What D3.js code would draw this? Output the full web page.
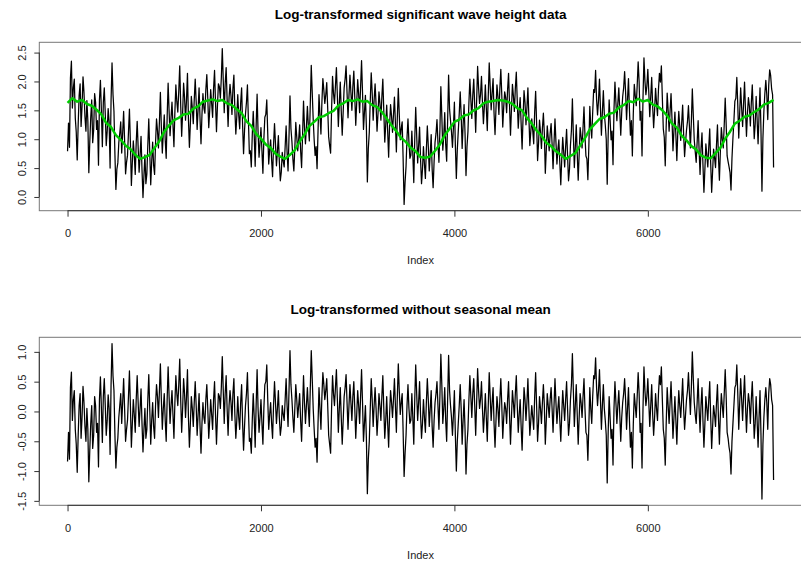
<!DOCTYPE html>
<html lang="en">
<head>
<meta charset="utf-8">
<title>Log-transformed significant wave height data</title>
<script src="https://d3js.org/d3.v7.min.js"></script>
<style>
  body { margin: 0; background: #fff; }
  svg { display: block; font-family: "Liberation Sans", Arial, Helvetica, sans-serif; }
</style>
</head>
<body>
<div id="chart"></div>
<script>
// log wave height, one value every 20 index steps (0 .. 7300)
var STEP = 20;
var logHeight = [
  0.79,0.86,2.35,1.89,1.37,0.64,1.76,1.22,2.08,1.39,1.67,0.42,1.38,0.94,1.79,1.17,0.55,2.02,0.87,1.89,0.89,1.53,0.50,2.32,1.48,
  0.13,0.59,1.10,0.76,1.48,0.40,0.72,1.52,0.20,0.97,0.39,1.31,0.43,1.05,-0.01,0.73,0.40,1.35,0.21,0.95,0.39,1.35,0.85,1.81,0.76,
  1.42,0.67,1.97,1.06,1.64,0.87,1.94,1.47,2.27,1.05,1.97,1.33,2.14,0.86,1.74,1.27,2.04,1.17,1.89,0.92,1.79,1.45,2.12,1.20,1.86,
  1.38,2.19,1.13,1.96,1.71,2.57,1.46,2.24,1.22,1.95,1.43,2.11,1.09,1.77,1.18,1.89,0.75,1.44,1.94,0.75,0.52,1.48,0.53,1.78,0.69,
  1.20,0.41,1.38,1.68,0.57,0.99,0.35,1.27,0.54,1.06,0.28,0.77,0.52,1.23,0.45,1.75,0.96,0.45,1.29,0.80,1.25,0.51,1.66,0.92,1.57,
  0.97,2.28,1.34,0.72,0.49,1.77,1.09,2.05,1.62,1.98,1.04,0.76,2.09,1.62,2.24,1.22,1.99,1.07,1.89,2.27,1.37,2.11,1.50,2.18,1.24,
  2.03,1.46,2.36,1.17,1.76,0.26,1.12,2.15,1.33,1.96,1.14,1.82,1.33,2.04,0.95,1.59,0.69,1.60,1.12,1.73,0.78,1.88,0.99,1.30,-0.13,
  0.53,1.35,0.67,1.14,0.25,1.55,0.59,1.21,0.23,0.87,0.32,1.23,0.45,1.08,0.16,0.95,1.34,0.60,1.91,0.81,1.46,0.62,2.11,1.32,0.86,
  1.64,0.32,1.14,1.82,0.84,1.60,0.37,1.13,2.04,1.36,2.04,1.12,2.26,1.62,2.09,1.27,1.94,1.15,2.32,1.51,2.05,1.08,1.94,1.43,2.21,
  1.21,1.82,1.46,2.14,1.07,1.95,1.48,2.16,1.19,1.72,0.83,1.84,1.25,1.89,0.89,1.35,0.92,1.83,0.63,1.33,0.84,1.45,0.41,1.23,0.80,
  1.27,0.49,1.35,0.57,0.99,0.21,1.03,0.52,1.17,0.28,0.90,1.70,0.51,1.25,0.29,1.20,0.85,1.56,0.71,0.30,1.57,1.02,1.86,2.19,1.42,
  2.04,1.07,1.84,1.25,0.22,1.68,0.99,0.56,1.99,1.32,1.89,1.07,1.74,2.17,1.34,2.05,1.07,0.71,1.95,1.58,2.34,1.33,0.71,2.41,1.77,
  2.21,1.39,2.07,1.20,1.88,1.41,2.14,2.27,1.18,0.54,1.80,1.14,1.79,0.80,1.47,0.63,1.48,0.98,1.59,0.70,1.16,1.58,0.85,1.87,0.99,
  0.60,1.32,0.39,1.11,0.08,0.92,0.52,1.18,0.08,0.83,0.51,1.25,0.29,1.20,0.85,1.71,0.71,0.52,0.12,1.02,1.66,2.07,1.02,1.89,1.22,
  1.99,1.05,1.72,1.23,1.94,1.01,1.74,0.92,1.89,0.10,1.49,2.02,1.34,2.20,1.87,0.51
];
// readings in between, at index 10, 30, ..., 7290
var logHeightMid = [
  1.28,2.06,1.54,2.04,1.12,1.26,1.96,1.57,1.81,1.14,1.32,0.95,1.68,1.16,1.64,1.32,1.68,1.49,1.64,1.44,1.14,1.30,1.67,1.78,0.73,
  0.48,0.94,1.30,1.11,0.98,0.60,1.12,0.94,0.60,0.72,0.94,0.86,0.73,0.47,0.37,0.23,0.90,0.78,0.61,0.55,0.94,1.15,1.30,1.21,1.11,
  0.99,1.39,1.49,1.37,1.25,1.48,1.65,1.83,1.59,1.46,1.72,1.68,1.35,1.27,1.55,1.68,1.65,1.53,1.35,1.43,1.54,1.86,1.71,1.50,1.62,
  1.88,1.64,1.58,1.91,2.06,2.02,1.96,1.69,1.72,1.75,1.88,1.51,1.39,1.42,1.63,1.24,1.15,1.64,1.34,0.80,1.07,1.08,1.23,1.13,0.94,
  0.80,1.01,1.43,1.10,0.82,0.64,0.90,0.92,0.79,0.61,0.43,0.62,0.87,0.78,1.05,1.18,0.66,0.85,1.04,1.00,0.80,1.06,1.21,1.22,1.22,
  1.62,1.81,0.99,0.87,1.14,1.42,1.64,1.85,1.77,1.53,0.89,1.51,1.79,1.92,1.74,1.62,1.49,1.47,2.04,1.80,1.77,1.81,1.91,1.73,1.64,
  1.78,1.91,1.81,1.47,1.21,0.84,1.67,1.80,1.68,1.61,1.44,1.62,1.73,1.49,1.25,1.14,1.24,1.40,1.42,1.28,1.38,1.43,1.19,0.65,0.26,
  1.03,0.95,0.72,0.74,1.00,1.07,0.89,0.66,0.48,0.57,0.82,0.88,0.75,0.48,0.61,1.10,0.94,1.15,1.40,1.06,0.91,1.32,1.52,1.12,1.21,
  0.89,0.82,1.44,1.42,1.24,1.10,0.87,1.63,1.69,1.76,1.59,1.67,1.89,1.77,1.64,1.57,1.54,1.75,1.92,1.81,1.45,1.53,1.74,1.88,1.76,
  1.56,1.72,1.86,1.59,1.52,1.75,1.88,1.66,1.49,1.27,1.38,1.64,1.55,1.39,1.14,1.15,1.47,1.28,0.93,1.13,1.19,1.10,0.81,1.03,1.10,
  0.92,0.94,0.95,0.82,0.59,0.66,0.78,0.87,0.72,0.48,1.15,1.08,0.86,0.75,0.74,1.05,1.20,1.06,0.66,0.87,1.22,1.47,1.81,1.69,1.67,
  1.54,1.47,1.44,1.00,1.07,1.33,1.14,1.51,1.64,1.62,1.49,1.47,1.89,1.82,1.69,1.50,1.32,1.46,1.75,1.93,1.99,1.48,1.71,2.01,1.92,
  1.81,1.74,1.57,1.50,1.63,1.86,1.99,1.72,1.03,1.24,1.50,1.49,1.34,1.15,1.07,1.13,1.23,1.28,1.09,0.95,1.31,1.23,1.30,1.42,0.79,
  0.95,0.82,0.84,0.56,0.48,0.72,0.87,0.58,0.45,0.68,0.91,0.70,0.79,1.00,1.25,1.26,0.61,0.42,0.67,1.32,1.71,1.59,1.47,1.54,1.62,
  1.49,1.45,1.57,1.63,1.49,1.26,1.34,1.42,1.14,1.02,1.79,1.77,1.94,2.10,1.77
];

// same index steps, seasonal mean removed
var residual = [
  -0.84,-0.80,0.66,0.20,-0.30,-1.02,0.10,-0.45,0.42,-0.25,0.05,-1.18,-0.20,-0.62,0.25,-0.35,-0.93,0.58,-0.52,0.55,-0.40,0.28,-0.72,1.14,0.35,
  -0.95,-0.45,0.10,-0.20,0.55,-0.50,-0.15,0.68,-0.60,0.20,-0.35,0.60,-0.25,0.38,-0.68,0.05,-0.30,0.62,-0.55,0.15,-0.45,0.45,-0.10,0.80,-0.30,
  0.30,-0.50,0.75,-0.20,0.35,-0.45,0.60,0.10,0.88,-0.35,0.55,-0.10,0.70,-0.60,0.25,-0.25,0.50,-0.40,0.30,-0.70,0.15,-0.20,0.45,-0.45,0.20,
  -0.30,0.50,-0.55,0.30,0.05,0.92,-0.20,0.60,-0.40,0.35,-0.15,0.55,-0.45,0.25,-0.30,0.45,-0.65,0.10,0.65,-0.50,-0.70,0.30,-0.60,0.70,-0.35,
  0.20,-0.55,0.45,0.78,-0.30,0.15,-0.45,0.50,-0.20,0.35,-0.40,0.10,-0.15,0.55,-0.25,1.02,0.20,-0.35,0.45,-0.10,0.30,-0.50,0.60,-0.20,0.40,
  -0.25,1.02,0.05,-0.60,-0.85,0.40,-0.30,0.65,0.20,0.55,-0.40,-0.70,0.60,0.10,0.70,-0.35,0.40,-0.55,0.25,0.62,-0.30,0.45,-0.15,0.50,-0.45,
  0.35,-0.20,0.70,-0.50,0.10,-1.38,-0.50,0.55,-0.25,0.40,-0.40,0.30,-0.15,0.60,-0.45,0.25,-0.60,0.35,-0.10,0.55,-0.35,0.80,-0.05,0.30,-1.09,
  -0.40,0.45,-0.20,0.30,-0.55,0.78,-0.15,0.50,-0.45,0.20,-0.35,0.55,-0.25,0.35,-0.60,0.15,0.50,-0.30,0.96,-0.20,0.40,-0.50,0.94,0.10,-0.40,
  0.35,-1.00,-0.20,0.45,-0.55,0.20,-1.05,-0.30,0.60,-0.10,0.55,-0.40,0.72,0.05,0.50,-0.35,0.30,-0.50,0.65,-0.15,0.40,-0.60,0.25,-0.25,0.55,
  -0.45,0.15,-0.20,0.50,-0.55,0.35,-0.10,0.60,-0.35,0.20,-0.65,0.40,-0.15,0.55,-0.40,0.10,-0.30,0.65,-0.50,0.25,-0.20,0.45,-0.55,0.30,-0.10,
  0.40,-0.35,0.55,-0.20,0.25,-0.50,0.35,-0.15,0.50,-0.40,0.20,0.97,-0.25,0.45,-0.55,0.30,-0.10,0.55,-0.35,-0.82,0.40,-0.20,0.60,0.90,0.10,
  0.70,-0.30,0.45,-0.15,-1.20,0.25,-0.45,-0.90,0.50,-0.20,0.35,-0.50,0.15,0.55,-0.30,0.40,-0.60,-0.95,0.30,-0.10,0.65,-0.35,-0.95,0.75,0.10,
  0.55,-0.25,0.45,-0.40,0.30,-0.15,0.60,0.75,-0.30,-0.90,0.40,-0.20,0.50,-0.45,0.25,-0.55,0.35,-0.10,0.55,-0.30,0.20,0.65,-0.05,1.00,0.15,
  -0.20,0.55,-0.35,0.40,-0.60,0.25,-0.15,0.50,-0.62,0.10,-0.25,0.45,-0.55,0.30,-0.10,0.70,-0.35,-0.60,-1.05,-0.20,0.40,0.78,-0.30,0.55,-0.15,
  0.60,-0.35,0.30,-0.20,0.50,-0.45,0.25,-0.60,0.35,-1.47,-0.10,0.40,-0.30,0.55,0.20,-1.15
];
var residualMid = [
  -0.35,0.40,-0.15,0.35,-0.55,-0.40,0.30,-0.10,0.15,-0.50,-0.30,-0.65,0.10,-0.40,0.10,-0.20,0.20,0.05,0.25,0.10,-0.15,0.05,0.45,0.60,-0.40,
  -0.60,-0.10,0.30,0.15,0.05,-0.30,0.25,0.10,-0.20,-0.05,0.20,0.15,0.05,-0.20,-0.30,-0.45,0.20,0.05,-0.15,-0.25,0.10,0.25,0.35,0.20,0.05,
  -0.15,0.20,0.25,0.10,-0.05,0.15,0.30,0.45,0.20,0.05,0.30,0.25,-0.10,-0.20,0.05,0.15,0.10,-0.05,-0.25,-0.20,-0.10,0.20,0.05,-0.15,-0.05,
  0.20,-0.05,-0.10,0.25,0.40,0.35,0.30,0.05,0.10,0.15,0.30,-0.05,-0.15,-0.10,0.15,-0.20,-0.25,0.30,0.05,-0.45,-0.15,-0.10,0.10,0.05,-0.10,
  -0.20,0.05,0.50,0.20,-0.05,-0.20,0.10,0.15,0.05,-0.10,-0.25,-0.05,0.20,0.10,0.35,0.45,-0.10,0.05,0.20,0.10,-0.15,0.05,0.15,0.10,0.05,
  0.40,0.55,-0.30,-0.45,-0.20,0.05,0.25,0.45,0.35,0.10,-0.55,0.05,0.30,0.40,0.20,0.05,-0.10,-0.15,0.40,0.15,0.10,0.15,0.25,0.05,-0.05,
  0.10,0.25,0.15,-0.20,-0.45,-0.80,0.05,0.20,0.10,0.05,-0.10,0.10,0.25,0.05,-0.15,-0.20,-0.05,0.15,0.20,0.10,0.25,0.35,0.15,-0.35,-0.70,
  0.10,0.05,-0.15,-0.10,0.20,0.30,0.15,-0.05,-0.20,-0.10,0.15,0.20,0.05,-0.25,-0.15,0.30,0.10,0.25,0.45,0.05,-0.15,0.20,0.35,-0.10,-0.05,
  -0.40,-0.50,0.10,0.05,-0.15,-0.30,-0.55,0.20,0.25,0.30,0.10,0.15,0.35,0.20,0.05,-0.05,-0.10,0.10,0.25,0.15,-0.20,-0.15,0.05,0.20,0.10,
  -0.10,0.05,0.20,-0.05,-0.10,0.15,0.30,0.10,-0.05,-0.25,-0.10,0.20,0.15,0.05,-0.15,-0.10,0.25,0.10,-0.20,0.05,0.15,0.10,-0.15,0.10,0.20,
  0.05,0.10,0.15,0.05,-0.15,-0.05,0.10,0.20,0.05,-0.20,0.45,0.35,0.10,-0.05,-0.10,0.15,0.25,0.05,-0.40,-0.25,0.05,0.25,0.55,0.40,0.35,
  0.20,0.10,0.05,-0.40,-0.35,-0.10,-0.30,0.05,0.15,0.10,-0.05,-0.10,0.30,0.20,0.05,-0.15,-0.35,-0.20,0.10,0.25,0.30,-0.20,0.05,0.35,0.25,
  0.15,0.10,-0.05,-0.10,0.05,0.30,0.45,0.20,-0.45,-0.20,0.10,0.15,0.05,-0.10,-0.15,-0.05,0.10,0.20,0.05,-0.05,0.35,0.30,0.40,0.55,-0.05,
  0.15,0.05,0.10,-0.15,-0.20,0.05,0.20,-0.10,-0.25,-0.05,0.15,-0.10,-0.05,0.10,0.30,0.25,-0.45,-0.70,-0.50,0.10,0.45,0.30,0.15,0.20,0.25,
  0.10,0.05,0.15,0.20,0.05,-0.20,-0.15,-0.10,-0.40,-0.55,0.20,0.15,0.30,0.45,0.10
];

// seasonal mean (green), one value every 50 index steps (0 .. 7300)
var SEASON_STEP = 50;
var seasonalMean = [
  1.63,1.71,1.65,1.68,1.61,1.58,1.51,1.43,1.28,1.21,1.07,0.99,0.89,0.83,0.73,0.66,0.69,0.73,0.85,0.97,1.13,1.24,1.33,1.37,1.43,1.44,1.53,1.57,1.65,1.67,
  1.69,1.66,1.68,1.62,1.59,1.52,1.45,1.31,1.23,1.09,1.01,0.91,0.85,0.75,0.70,0.66,0.73,0.81,0.96,1.08,1.23,1.30,1.38,1.40,1.45,1.49,1.58,1.62,1.68,
  1.66,1.69,1.65,1.66,1.59,1.56,1.47,1.36,1.24,1.14,1.02,0.95,0.85,0.79,0.69,0.68,0.70,0.80,0.91,1.07,1.18,1.30,1.34,1.41,1.43,1.50,1.54,1.62,1.65,
  1.66,1.68,1.67,1.65,1.61,1.54,1.50,1.37,1.27,1.15,1.06,0.94,0.88,0.79,0.73,0.66,0.71,0.76,0.89,1.02,1.17,1.26,1.35,1.38,1.44,1.46,1.55,1.59,1.66,
  1.64,1.70,1.65,1.68,1.60,1.57,1.50,1.41,1.27,1.20,1.06,0.98,0.88,0.82,0.72,0.68,0.67,0.76,0.85,1.01,1.13,1.27,1.32,1.39,1.41,1.47,1.52,1.60,1.63,1.68
];

var xTicks = [0, 2000, 4000, 6000];
var yTicksTop = [0, 0.5, 1, 1.5, 2, 2.5];
var yTicksBottom = [-1.5, -1, -0.5, 0, 0.5, 1];
var titleTop = "Log-transformed significant wave height data";
var titleBottom = "Log-transformed without seasonal mean";
var xLabel = "Index";

var width = 801, height = 561;
var left = 39.3, right = 801.8;

var svg = d3.select("#chart")
  .append("svg")
    .attr("width", width)
    .attr("height", height);

svg.append("rect")
  .attr("width", width)
  .attr("height", height)
  .attr("fill", "#fff");

// R pads the data range by 4% on each side
function padded(ext) {
  var r = ext[1] - ext[0];
  return [ext[0] - 0.04 * r, ext[1] + 0.04 * r];
}

function toPoints(values, step) {
  return values.map(function(v, i) { return {x: i * step, y: v}; });
}

// put the in-between readings back in index order
function interleave(even, odd, step) {
  var pts = [];
  even.forEach(function(v, i) {
    pts.push({x: i * step, y: v});
    if (i < odd.length) pts.push({x: i * step + step / 2, y: odd[i]});
  });
  return pts;
}

var x = d3.scaleLinear()
  .domain(padded([0, (logHeight.length - 1) * STEP]))
  .range([left, right]);

function panel(top, bottom, title, yTicks, series) {
  var y = d3.scaleLinear()
    .domain(padded(d3.extent(series[0].points, function(d) { return d.y; })))
    .range([bottom, top]);

  // lines
  series.forEach(function(s) {
    svg.append("path")
      .datum(s.points)
      .attr("fill", "none")
      .attr("stroke", s.color)
      .attr("stroke-width", s.width)
      .attr("stroke-linejoin", "round")
      .attr("d", d3.line()
        .x(function(d) { return x(d.x); })
        .y(function(d) { return y(d.y); }));
  });

  // box
  svg.append("rect")
    .attr("x", left)
    .attr("y", top)
    .attr("width", right - left)
    .attr("height", bottom - top)
    .attr("fill", "none")
    .attr("stroke", "#777")
    .attr("stroke-width", 1);

  // x axis
  var gx = svg.append("g")
    .attr("transform", "translate(0," + bottom + ")")
    .style("color", "#333")
    .call(d3.axisBottom(x).tickValues(xTicks).tickSize(6).tickFormat(d3.format("d")));
  gx.select(".domain").remove();
  gx.append("line")
    .attr("x1", x(xTicks[0]))
    .attr("x2", x(xTicks[xTicks.length - 1]))
    .attr("stroke", "#333");
  gx.selectAll("text")
    .attr("y", 26.5)
    .attr("dy", null)
    .attr("font-size", 11)
    .attr("font-family", null)
    .attr("fill", "#222");

  // y axis
  var gy = svg.append("g")
    .attr("transform", "translate(" + left + ",0)")
    .style("color", "#333")
    .call(d3.axisLeft(y).tickValues(yTicks).tickSize(5)
      .tickFormat(function(d) { return d.toFixed(1); }));
  gy.select(".domain").remove();
  gy.append("line")
    .attr("y1", y(yTicks[0]))
    .attr("y2", y(yTicks[yTicks.length - 1]))
    .attr("stroke", "#333");
  gy.selectAll("text")
    .attr("x", null)
    .attr("dy", null)
    .attr("text-anchor", "middle")
    .attr("transform", "translate(" + (25.5 - left) + ",0) rotate(-90)")
    .attr("font-size", 11)
    .attr("font-family", null)
    .attr("fill", "#222");

  // title
  svg.append("text")
    .attr("x", (left + right) / 2)
    .attr("y", top - 23.3)
    .attr("text-anchor", "middle")
    .attr("font-weight", "bold")
    .attr("font-size", 13.5)
    .text(title);

  // x label
  svg.append("text")
    .attr("x", (left + right) / 2)
    .attr("y", bottom + 53.5)
    .attr("text-anchor", "middle")
    .attr("font-size", 11)
    .attr("fill", "#222")
    .text(xLabel);
}

panel(42.3, 210.7, titleTop, yTicksTop, [
  {points: interleave(logHeight, logHeightMid, STEP), color: "#000", width: 1.25},
  {points: toPoints(seasonalMean, SEASON_STEP), color: "#00cc00", width: 2.5}
]);

panel(337.3, 505.3, titleBottom, yTicksBottom, [
  {points: interleave(residual, residualMid, STEP), color: "#000", width: 1.25}
]);
</script>
</body>
</html>
